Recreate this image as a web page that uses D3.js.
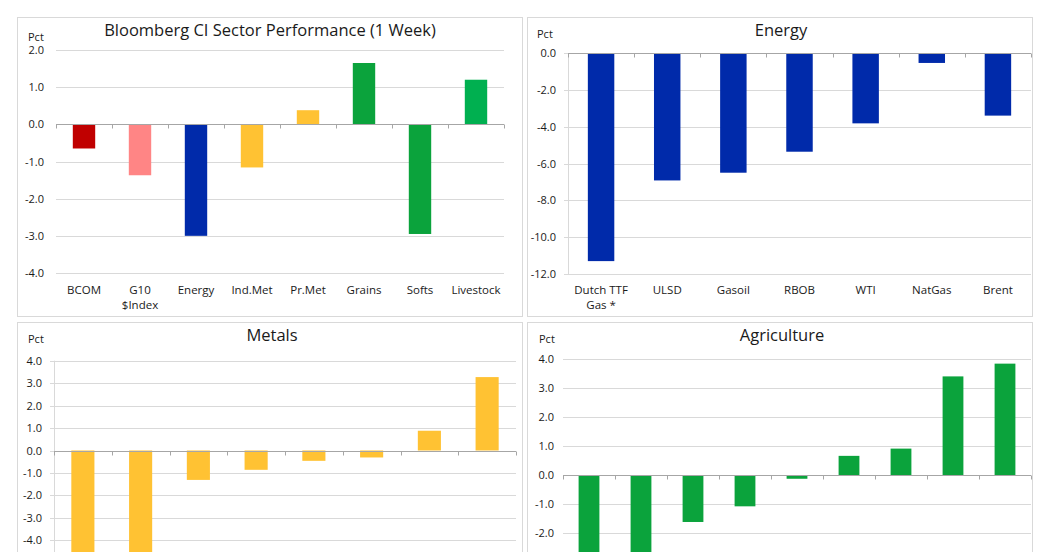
<!DOCTYPE html>
<html>
<head>
<meta charset="utf-8">
<script src="https://cdn.jsdelivr.net/npm/d3@7"></script>
<style>
  html, body { margin: 0; padding: 0; background: #ffffff; }
  svg { display: block; font-family: "Open Sans", "Noto Sans", sans-serif; }
</style>
</head>
<body>
<svg id="chart" width="1048" height="552"></svg>
<script>
// ---------- DATA ----------
const sectorCategories = ["BCOM", "G10\n$Index", "Energy", "Ind.Met", "Pr.Met", "Grains", "Softs", "Livestock"];
const sectorValues     = [-0.65, -1.37, -3.00, -1.16, 0.38, 1.65, -2.95, 1.20];
const sectorTicks      = [-4, -3, -2, -1, 0, 1, 2];

const energyCategories = ["Dutch TTF\nGas *", "ULSD", "Gasoil", "RBOB", "WTI", "NatGas", "Brent"];
const energyValues     = [-11.30, -6.92, -6.50, -5.36, -3.82, -0.54, -3.40];
const energyTicks      = [-12, -10, -8, -6, -4, -2, 0];

const metalsCategories = ["Nickel", "Zinc", "Aluminium", "Copper", "Lead", "Platinum", "Gold", "Silver"];
const metalsValues     = [-5.40, -4.90, -1.31, -0.86, -0.46, -0.31, 0.88, 3.27];
const metalsTicks      = [-6, -5, -4, -3, -2, -1, 0, 1, 2, 3, 4];

const agriCategories   = ["Cocoa", "Coffee", "Cotton", "Sugar", "Soybeans", "Wheat", "Corn", "Soymeal", "Live Cattle"];
const agriValues       = [-3.00, -2.70, -1.62, -1.08, -0.13, 0.66, 0.91, 3.40, 3.84];
const agriTicks        = [-4, -3, -2, -1, 0, 1, 2, 3, 4];

// ---------- STYLE ----------
const sectorColors = {
  "BCOM": "#C00000", "G10\n$Index": "#FF8585", "Energy": "#002AAA",
  "Ind.Met": "#FFC233", "Pr.Met": "#FFC233", "Grains": "#0BA33C",
  "Softs": "#0BA33C", "Livestock": "#00B050"
};
const GRID = "#D9D9D9", AXIS = "#A6A6A6", BORDER = "#D9D9D9", TEXT = "#1a1a1a";
const W = 1048, H = 552;

const svg = d3.select("#chart");

function drawPanel(cfg) {
  const g = svg.append("g");
  // border
  g.append("rect")
    .attr("x", cfg.box[0] + 0.5).attr("y", cfg.box[1] + 0.5)
    .attr("width", cfg.box[2]).attr("height", cfg.box[3])
    .attr("fill", "#fff").attr("stroke", BORDER).attr("stroke-width", 1);

  const x = d3.scaleBand().domain(cfg.categories)
    .range(cfg.xRange).paddingInner(0.6).paddingOuter(0.3);
  const y = d3.scaleLinear().domain(cfg.yDomain).range(cfg.yRange);

  // gridlines
  g.append("g").selectAll("line").data(cfg.ticks).join("line")
    .attr("x1", cfg.xRange[0] - (cfg.yAxisLine ? 4 : 0)).attr("x2", cfg.xRange[1])
    .attr("y1", d => Math.round(y(d)) + 0.5).attr("y2", d => Math.round(y(d)) + 0.5)
    .attr("stroke", GRID).attr("stroke-width", 1);

  if (cfg.yAxisLine) {
    g.append("line")
      .attr("x1", Math.round(cfg.xRange[0]) + 0.5).attr("x2", Math.round(cfg.xRange[0]) + 0.5)
      .attr("y1", y(cfg.yDomain[1])).attr("y2", y(cfg.yDomain[0]))
      .attr("stroke", GRID);
  }

  // y axis labels (only those that fall on the page)
  const visibleTicks = cfg.ticks.filter(t => y(t) + 6 <= H);
  const yAxis = d3.axisLeft(y).tickValues(visibleTicks).tickSize(0).tickPadding(0)
    .tickFormat(d => d.toFixed(1));
  const ya = g.append("g").attr("transform", `translate(${cfg.labelRight},0)`).call(yAxis);
  ya.select(".domain").remove();
  ya.selectAll("text").attr("fill", TEXT).style("font-size", "11px")
    .style("font-family", '"Open Sans", sans-serif');

  // bars
  g.append("g").selectAll("rect").data(cfg.categories).join("rect")
    .attr("x", d => x(d))
    .attr("width", x.bandwidth())
    .attr("y", (d, i) => y(Math.max(0, cfg.values[i])))
    .attr("height", (d, i) => Math.abs(y(cfg.values[i]) - y(0)))
    .attr("fill", (d, i) => cfg.color(d, i));

  // zero axis line
  const y0 = Math.round(y(0)) + 0.5;
  g.append("line").attr("x1", cfg.xRange[0]).attr("x2", cfg.xRange[1])
    .attr("y1", y0).attr("y2", y0).attr("stroke", AXIS);
  // category boundary ticks
  const step = x.step();
  const bounds = d3.range(cfg.categories.length + 1).map(i => cfg.xRange[0] + i * step);
  g.append("g").selectAll("line").data(bounds).join("line")
    .attr("x1", d => Math.round(d) + 0.5).attr("x2", d => Math.round(d) + 0.5)
    .attr("y1", y0).attr("y2", y0 + 4).attr("stroke", AXIS);

  // category labels (only when they fall on the page)
  if (cfg.catY + 6 <= H) {
    const lab = g.append("g").selectAll("text").data(cfg.categories).join("text")
      .attr("x", d => x(d) + x.bandwidth() / 2)
      .attr("y", cfg.catY)
      .attr("text-anchor", "middle").attr("fill", TEXT)
      .style("font-size", "11.5px");
    lab.each(function(d) {
      const parts = d.split("\n");
      d3.select(this).selectAll("tspan").data(parts).join("tspan")
        .attr("x", x(d) + x.bandwidth() / 2)
        .attr("dy", (p, j) => j === 0 ? "0.35em" : "15px")
        .text(p => p);
    });
  }

  // title
  g.append("text").attr("x", cfg.titlePos[0]).attr("y", cfg.titlePos[1])
    .attr("dy", "0.35em").attr("text-anchor", "middle").attr("fill", TEXT)
    .style("font-size", "16.5px").text(cfg.title);
  // unit
  g.append("text").attr("x", cfg.pctPos[0]).attr("y", cfg.pctPos[1])
    .attr("dy", "0.35em").attr("fill", TEXT)
    .style("font-size", "11px").text("Pct");
}

drawPanel({
  title: "Bloomberg CI Sector Performance (1 Week)",
  categories: sectorCategories, values: sectorValues, ticks: sectorTicks,
  box: [17, 17, 505, 299], xRange: [56, 504], yDomain: [-4, 2], yRange: [273, 50],
  labelRight: 44, catY: 290, titlePos: [270, 30], pctPos: [28, 37],
  color: d => sectorColors[d], yAxisLine: false
});

drawPanel({
  title: "Energy",
  categories: energyCategories, values: energyValues, ticks: energyTicks,
  box: [527, 17, 505, 299], xRange: [568, 1031], yDomain: [-12, 0], yRange: [274, 53],
  labelRight: 556, catY: 290, titlePos: [781, 30], pctPos: [537, 34],
  color: () => "#002AAA", yAxisLine: true
});

drawPanel({
  title: "Metals",
  categories: metalsCategories, values: metalsValues, ticks: metalsTicks,
  box: [17, 322, 505, 300], xRange: [54, 516], yDomain: [-6, 4], yRange: [585.2, 360.7],
  labelRight: 42, catY: 605, titlePos: [272, 335], pctPos: [28, 339],
  color: () => "#FFC233", yAxisLine: true
});

drawPanel({
  title: "Agriculture",
  categories: agriCategories, values: agriValues, ticks: agriTicks,
  box: [527, 322, 505, 300], xRange: [563, 1031], yDomain: [-4, 4], yRange: [591, 359],
  labelRight: 554, catY: 610, titlePos: [782, 335], pctPos: [539, 339],
  color: () => "#0BA33C", yAxisLine: false
});
</script>
</body>
</html>
